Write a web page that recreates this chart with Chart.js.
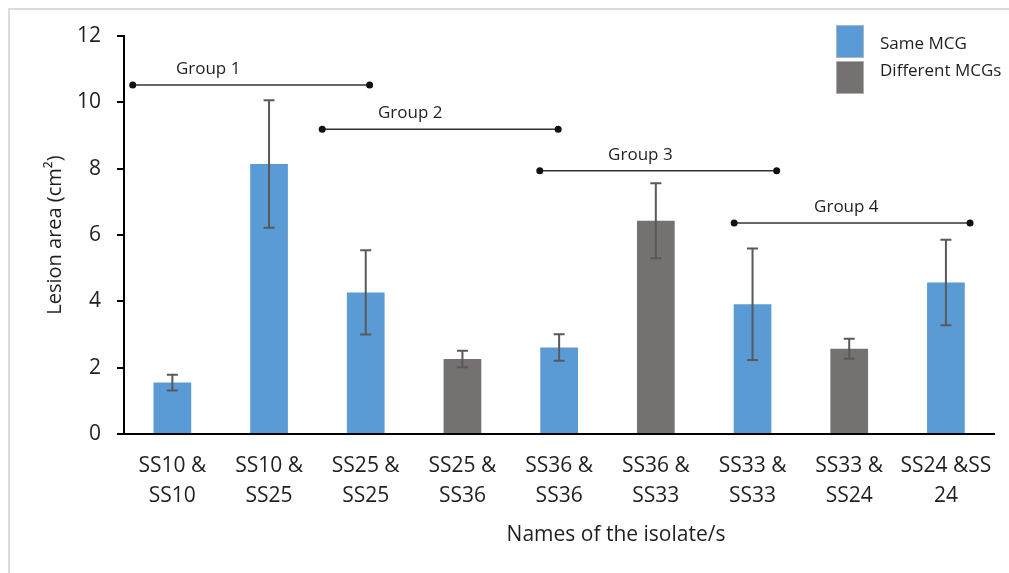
<!DOCTYPE html>
<html>
<head>
<meta charset="utf-8">
<script src="https://cdn.jsdelivr.net/npm/chart.js@4/dist/chart.umd.min.js"></script>
<style>
  html, body { margin: 0; padding: 0; background: #fff; overflow: hidden; }
  #wrap { position: relative; width: 1009px; height: 573px; }
  #frame { position: absolute; left: 8px; top: 8px; width: 1020px; height: 600px;
           border-left: 2px solid #dcdcdc; border-top: 2px solid #dcdcdc; }
  #chart { position: absolute; left: 0; top: 0; }
</style>
</head>
<body>
<div id="wrap">
  <div id="frame"></div>
  <canvas id="chart" width="1009" height="573"></canvas>
</div>
<script>
// Isolate pairings on the x axis (two text lines each)
const categories = [
  ["SS10 &", "SS10"], ["SS10 &", "SS25"], ["SS25 &", "SS25"],
  ["SS25 &", "SS36"], ["SS36 &", "SS36"], ["SS36 &", "SS33"],
  ["SS33 &", "SS33"], ["SS33 &", "SS24"], ["SS24 &SS", "24"]
];
// Mean lesion area (cm²) per pairing, split by MCG relationship
const sameMCG       = [1.55, 8.14, 4.27, null, 2.61, null, 3.91, null, 4.57];
const differentMCGs = [null, null, null, 2.26, null, 6.43, null, 2.57, null];
// Error bar half-length (cm²)
const errorHalf     = [0.24, 1.92, 1.27, 0.25, 0.40, 1.13, 1.68, 0.30, 1.29];
// Y axis ticks
const yTicks = [0, 2, 4, 6, 8, 10, 12];
// Group brackets: label, level (cm²), span in category units, label anchor
const groupNames  = ["Group 1", "Group 2", "Group 3", "Group 4"];
const groupLevel  = [10.52, 9.19, 7.94, 6.36];
const groupFrom   = [-0.41, 1.55, 3.80, 5.81];
const groupTo     = [2.04, 3.99, 6.25, 8.25];
const groupTextAt = [0.37, 2.46, 4.84, 6.97];

const FONT = "'Open Sans', 'Noto Sans', sans-serif";
const TEXT = '#1f1f1f';
Chart.defaults.font.family = FONT;
Chart.defaults.color = TEXT;

const errorBars = {
  id: 'errorBars',
  afterDatasetsDraw(chart) {
    const { ctx, scales: { x, y } } = chart;
    ctx.save();
    ctx.strokeStyle = '#595959';
    ctx.lineWidth = 2;
    categories.forEach((c, i) => {
      const v = sameMCG[i] != null ? sameMCG[i] : differentMCGs[i];
      if (v == null) return;
      const px = x.getPixelForValue(i);
      const yt = y.getPixelForValue(v + errorHalf[i]);
      const yb = y.getPixelForValue(v - errorHalf[i]);
      const cap = 5.5;
      ctx.beginPath();
      ctx.moveTo(px, yt); ctx.lineTo(px, yb);
      ctx.moveTo(px - cap, yt); ctx.lineTo(px + cap, yt);
      ctx.moveTo(px - cap, yb); ctx.lineTo(px + cap, yb);
      ctx.stroke();
    });
    ctx.restore();
  }
};

const groupBrackets = {
  id: 'groupBrackets',
  afterDatasetsDraw(chart) {
    const { ctx, scales: { x, y } } = chart;
    const step = x.getPixelForValue(1) - x.getPixelForValue(0);
    const at = v => x.getPixelForValue(0) + v * step;
    ctx.save();
    groupNames.forEach((name, g) => {
      const py = y.getPixelForValue(groupLevel[g]);
      const x0 = at(groupFrom[g]), x1 = at(groupTo[g]);
      ctx.strokeStyle = '#333';
      ctx.lineWidth = 1.5;
      ctx.beginPath();
      ctx.moveTo(x0, py); ctx.lineTo(x1, py);
      ctx.stroke();
      ctx.fillStyle = '#111';
      [x0, x1].forEach(px => {
        ctx.beginPath();
        ctx.arc(px, py, 3.5, 0, Math.PI * 2);
        ctx.fill();
      });
      ctx.fillStyle = TEXT;
      ctx.font = `17px ${FONT}`;
      ctx.textAlign = 'center';
      ctx.textBaseline = 'middle';
      ctx.fillText(name, at(groupTextAt[g]), py - 16);
    });
    ctx.restore();
  }
};

const sideLegend = {
  id: 'sideLegend',
  afterDraw(chart) {
    const { ctx } = chart;
    ctx.save();
    const boxes = [[25, 44], [61, 71]];
    chart.data.datasets.forEach((ds, k) => {
      const [by, ty] = boxes[k];
      ctx.fillStyle = ds.backgroundColor;
      ctx.fillRect(836, by, 28, 33);
      ctx.strokeStyle = 'rgba(190,190,190,0.8)';
      ctx.lineWidth = 1;
      ctx.strokeRect(836.5, by + 0.5, 27, 32);
      ctx.fillStyle = TEXT;
      ctx.font = `17px ${FONT}`;
      ctx.textAlign = 'left';
      ctx.textBaseline = 'middle';
      ctx.fillText(ds.label, 880, ty);
    });
    ctx.restore();
  }
};

const xTitle = {
  id: 'xTitle',
  afterDraw(chart) {
    const { ctx } = chart;
    ctx.save();
    ctx.fillStyle = TEXT;
    ctx.font = `21px ${FONT}`;
    ctx.textAlign = 'center';
    ctx.textBaseline = 'middle';
    ctx.fillText('Names of the isolate/s', 616, 535);
    ctx.restore();
  }
};

new Chart(document.getElementById('chart'), {
  type: 'bar',
  data: {
    labels: categories,
    datasets: [
      { label: 'Same MCG', data: sameMCG, backgroundColor: '#5B9BD5',
        grouped: false, skipNull: true, barPercentage: 0.39, categoryPercentage: 1 },
      { label: 'Different MCGs', data: differentMCGs, backgroundColor: '#767171',
        grouped: false, skipNull: true, barPercentage: 0.39, categoryPercentage: 1 }
    ]
  },
  options: {
    responsive: false,
    animation: false,
    layout: { padding: { top: 36, right: 12, bottom: 0, left: 0 } },
    plugins: { legend: { display: false }, tooltip: { enabled: false } },
    scales: {
      x: {
        offset: true,
        ticks: { font: { size: 21, lineHeight: 1.43 }, color: TEXT, padding: 17,
                 maxRotation: 0, autoSkip: false },
        grid: { display: false, drawTicks: false },
        border: { color: '#000', width: 2 },
        afterFit: s => { s.height = 573 - 434; }
      },
      y: {
        min: 0, max: 12,
        afterBuildTicks: s => { s.ticks = yTicks.map(v => ({ value: v })); },
        ticks: { font: { size: 21 }, color: TEXT, padding: 16 },
        grid: { drawOnChartArea: false, drawTicks: true, tickLength: 7, color: '#000', lineWidth: 2 },
        border: { color: '#000', width: 2 },
        title: { display: true, text: 'Lesion area (cm²)', font: { size: 20 }, color: TEXT,
                 padding: { top: 43, bottom: 0 } },
        afterFit: s => { s.width = 124; }
      }
    }
  },
  plugins: [errorBars, groupBrackets, sideLegend, xTitle]
});
</script>
</body>
</html>
